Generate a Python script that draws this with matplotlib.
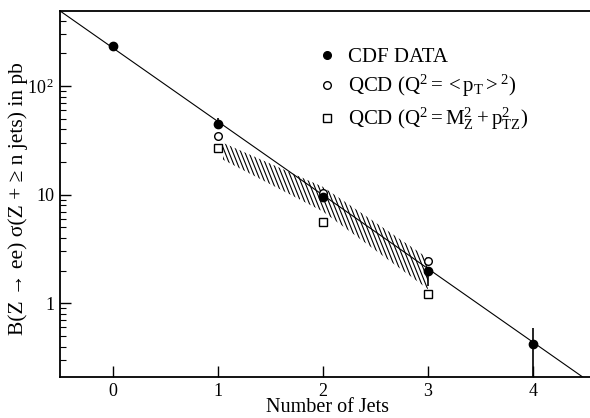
import numpy as np
import matplotlib
matplotlib.use("Agg")
import matplotlib.pyplot as plt
import matplotlib.hatch as mhatch
from matplotlib.path import Path
from matplotlib.ticker import FixedLocator, LogLocator, NullFormatter

plt.rcParams['font.family'] = ['Liberation Serif', 'DejaVu Serif']
plt.rcParams['mathtext.fontset'] = 'stix'
plt.rcParams['mathtext.default'] = 'regular'
plt.rcParams['hatch.linewidth'] = 0.8


# steep "\" hatch used for the '|' hatch character
class SteepHatch(mhatch.HatchPatternBase):
    def __init__(self, hatch, density):
        nl = 25 if hatch.count('|') else 0
        shift = 0.4
        segs = []
        for i in range(nl):
            x0 = i / nl
            x1 = x0 + shift
            if x1 <= 1:
                segs.append(((x0, 1.0), (x1, 0.0)))
            else:
                yc = 1 - (1 - x0) / shift
                segs.append(((x0, 1.0), (1.0, yc)))
                segs.append(((0.0, yc), (x1 - 1, 0.0)))
        self.segs = segs
        self.num_vertices = 2 * len(segs)

    def set_vertices_and_codes(self, vertices, codes):
        for k, (a, b) in enumerate(self.segs):
            vertices[2 * k] = a
            vertices[2 * k + 1] = b
            codes[2 * k] = Path.MOVETO
            codes[2 * k + 1] = Path.LINETO


mhatch._hatch_types = [SteepHatch if c is mhatch.VerticalHatch else c
                       for c in mhatch._hatch_types]

# ---- data ----
n_jets = [0, 1, 2, 3, 4]
cdf_y = [233, 45, 9.6, 2.0, 0.42]
cdf_lo = [233, 41, 8.8, 1.43, 0.2]
cdf_hi = [233, 51, 10.4, 2.18, 0.59]

qcd_n = [1, 2, 3]
qcd_pt = [34.8, 10.4, 2.43]
qcd_mz = [27.0, 5.65, 1.21]

band_x = [1.05, 2.0, 3.0]
band_lo = [21.0, 7.0, 1.35]
band_hi = [30.0, 11.8, 2.6]

fit_norm = 225.0
fit_ratio = 0.210

xticks = [0, 1, 2, 3, 4]
ytick_vals = [1, 10, 100]
ytick_labels = ['1', '10', r'$10^{\,2}$']

fig = plt.figure(figsize=(5.9, 4.18), dpi=100)
ax = fig.add_axes([60/590, 1 - 377/418, 530/590, 366/418])

# hatched band
ax.fill_between(band_x, band_lo, band_hi, facecolor='none', edgecolor='black',
                hatch='|', linewidth=0)

# fit line
xf = np.array([-0.6, 4.7])
ax.plot(xf, fit_norm * fit_ratio ** xf, color='black', lw=0.8)

# data
cdf_y_a = np.array(cdf_y)
yerr = [cdf_y_a - np.array(cdf_lo), np.array(cdf_hi) - cdf_y_a]
ax.errorbar(n_jets, cdf_y, yerr=yerr, fmt='o', color='black', ms=6, elinewidth=1.2,
            capsize=0, zorder=5)
h_pt, = ax.plot(qcd_n, qcd_pt, 'o', mfc='white', mec='black', mew=1.0, ms=5.5, zorder=4)
h_mz, = ax.plot(qcd_n, qcd_mz, 's', mfc='white', mec='black', mew=1.0, ms=5.5, zorder=4)
h_dot, = ax.plot([], [], 'o', color='black', ms=5.5)

ax.set_yscale('log')
ax.set_xlim(-0.5, 4.54)
ax.set_ylim(0.21, 490)

ax.xaxis.set_major_locator(FixedLocator(xticks))
ax.yaxis.set_major_locator(FixedLocator(ytick_vals))
ax.set_yticklabels(ytick_labels)
ax.yaxis.set_minor_locator(LogLocator(base=10, subs=np.arange(2, 10)))
ax.yaxis.set_minor_formatter(NullFormatter())
ax.tick_params(which='major', direction='in', length=8, width=1.0, labelsize=13, pad=4)
ax.tick_params(axis='x', which='major', pad=4)
ax.tick_params(which='minor', direction='in', length=4.5, width=0.8)
ax.tick_params(axis='x', which='minor', bottom=False)

for s in ['left', 'bottom', 'top']:
    ax.spines[s].set_linewidth(1.3)
ax.spines['right'].set_visible(False)

ax.set_xlabel('Number of Jets', fontsize=14.5)
ax.xaxis.set_label_coords((327 - 60) / 530, -(398 - 377) / 366)
ax.set_ylabel('B(Z → ee) σ(Z + ≥ n jets) in pb', fontsize=15.5)
ax.yaxis.set_label_coords(-(60 - 28) / 530, (377 - 199) / 366)

ax.legend([h_dot, h_pt, h_mz],
          ['CDF DATA', r'QCD ($Q^2 = <p_T>^2$)', r'QCD ($Q^2 = M_Z^2 + p_{TZ}^2$)'],
          loc='upper left', bbox_to_anchor=((306 - 60) / 530, 1 - (37 - 11) / 366),
          frameon=False, fontsize=15, handlelength=1.0, handletextpad=0.5,
          labelspacing=0.3, borderpad=0, numpoints=1)

fig.savefig('out.png', dpi=100)
